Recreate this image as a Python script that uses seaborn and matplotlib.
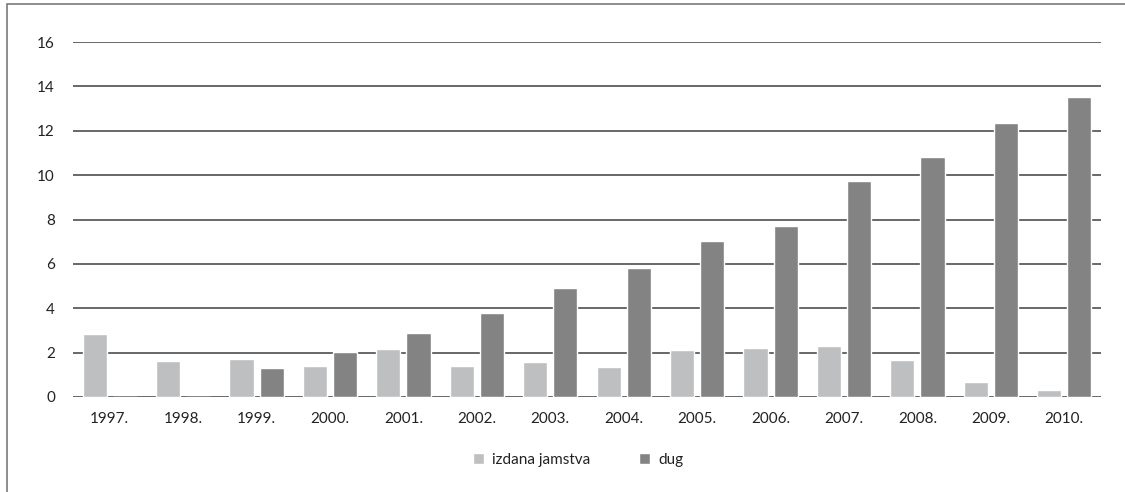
import matplotlib
matplotlib.use("Agg")
import matplotlib.pyplot as plt
import seaborn as sns
import pandas as pd
from matplotlib.patches import Rectangle

years = ["1997.", "1998.", "1999.", "2000.", "2001.", "2002.", "2003.",
         "2004.", "2005.", "2006.", "2007.", "2008.", "2009.", "2010."]
izdana_jamstva = [2.85, 1.63, 1.72, 1.40, 2.17, 1.40, 1.58,
                  1.36, 2.12, 2.21, 2.30, 1.67, 0.68, 0.32]
dug = [0.0, 0.0, 1.31, 2.04, 2.90, 3.80, 4.93,
       5.83, 7.02, 7.70, 9.73, 10.81, 12.33, 13.50]
series_names = ["izdana jamstva", "dug"]
y_ticks = [0, 2, 4, 6, 8, 10, 12, 14, 16]

df = pd.DataFrame({
    "godina": years * 2,
    "vrijednost": izdana_jamstva + dug,
    "serija": [series_names[0]] * len(years) + [series_names[1]] * len(years),
})

sns.set_theme(style="white")
plt.rcParams["font.family"] = ["Lato", "DejaVu Sans"]

fig = plt.figure(figsize=(11.25, 4.92), dpi=100)
ax = fig.add_axes([73 / 1125, 1 - 397 / 492, (1101 - 73) / 1125, (397 - 42) / 492])

sns.barplot(data=df, x="godina", y="vrijednost", hue="serija",
            palette=["#bebfc0", "#838384"], width=0.82, gap=0.2,
            saturation=1, ax=ax, legend=True, order=years,
            hue_order=series_names)

ax.set_ylim(0, 16)
ax.set_xlim(-0.5, len(years) - 0.5)
ax.set_yticks(y_ticks)
ax.set_yticklabels([str(t) for t in y_ticks])
ax.set_xlabel("")
ax.set_ylabel("")
for s in ax.spines.values():
    s.set_visible(False)
ax.yaxis.grid(True, color="#5c5c5c", linewidth=1.3)
ax.set_axisbelow(True)
ax.tick_params(axis="both", length=0, labelsize=11, colors="#222222")
ax.tick_params(axis="y", pad=13)
ax.tick_params(axis="x", pad=11)

leg = ax.legend(loc="center", bbox_to_anchor=(578 / 1125, 1 - 460 / 492),
                bbox_transform=fig.transFigure, ncol=2, frameon=False,
                fontsize=11, handlelength=0.75, handleheight=0.75,
                columnspacing=3.2, handletextpad=0.5)
for t in leg.get_texts():
    t.set_color("#222222")

fig.patches.append(Rectangle((7 / 1125, -0.1), 1.2, 1 - 4 / 492 + 0.1,
                             transform=fig.transFigure, fill=False,
                             edgecolor="#7a7a7a", linewidth=1.2))

fig.savefig("out.png", dpi=100)
